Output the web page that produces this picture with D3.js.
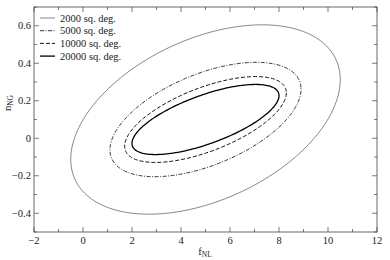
<!DOCTYPE html>
<html>
<head>
<meta charset="utf-8">
<script src="https://cdn.jsdelivr.net/npm/d3@7"></script>
<style>
  body { margin: 0; background: #fff; }
  text { font-family: "Liberation Serif", "Times New Roman", serif; fill: #222; }
</style>
</head>
<body>
<div id="root"></div>
<script>
// survey areas and Fisher-forecast ellipse parameters
const surveys = ["2000 sq. deg.", "5000 sq. deg.", "10000 sq. deg.", "20000 sq. deg."];
const centerF = 5.0, centerN = 0.1;
const sigmaF = [5.5, 3.9, 3.3, 3.0];
const sigmaN = [0.505, 0.305, 0.229, 0.187];
const rho = [0.42, 0.53, 0.62, 0.68];

const xMajor = [-2, 0, 2, 4, 6, 8, 10, 12];
const xMinor = d3.range(-2, 12.01, 1);
const yMajor = [-0.4, -0.2, 0, 0.2, 0.4, 0.6];
const yMinor = d3.range(-0.5, 0.701, 0.1);

const width = 390, height = 260;
const x = d3.scaleLinear().domain([-2, 12]).range([34, 377]);
const y = d3.scaleLinear().domain([-0.5, 0.7]).range([232, 7]);

const styles = [
  {w: 0.7, dash: null, col: "#555"},
  {w: 0.9, dash: "4,1.5,1,1.5", col: "#222"},
  {w: 1.0, dash: "4,2", col: "#111"},
  {w: 1.3, dash: null, col: "#000"}
];

const svg = d3.select("#root").append("svg")
    .attr("width", width).attr("height", height);

// ellipses
const angles = d3.range(0, 360, 2).map(a => a * Math.PI / 180);
const line = d3.line()
    .curve(d3.curveCardinalClosed)
    .x(d => x(d[0])).y(d => y(d[1]));

surveys.forEach((s, i) => {
  const pts = angles.map(t => [
    centerF + sigmaF[i] * Math.cos(t),
    centerN + sigmaN[i] * (rho[i] * Math.cos(t) + Math.sqrt(1 - rho[i] * rho[i]) * Math.sin(t))
  ]);
  svg.append("path")
      .attr("d", line(pts))
      .attr("fill", "none")
      .attr("stroke", styles[i].col)
      .attr("stroke-width", styles[i].w)
      .attr("stroke-dasharray", styles[i].dash);
});

// frame
const x0 = x.range()[0], x1 = x.range()[1], y0 = y.range()[0], y1 = y.range()[1];
svg.append("rect")
    .attr("x", x0).attr("y", y1)
    .attr("width", x1 - x0).attr("height", y0 - y1)
    .attr("fill", "none").attr("stroke", "#444").attr("stroke-width", 0.8);

// ticks on all four sides, pointing inward
const tk = svg.append("g").attr("stroke", "#444").attr("stroke-width", 0.7);
xMinor.forEach(v => {
  const len = xMajor.some(m => Math.abs(m - v) < 1e-6) ? 5 : 3;
  tk.append("line").attr("x1", x(v)).attr("x2", x(v)).attr("y1", y0).attr("y2", y0 - len);
  tk.append("line").attr("x1", x(v)).attr("x2", x(v)).attr("y1", y1).attr("y2", y1 + len);
});
yMinor.forEach(v => {
  const len = yMajor.some(m => Math.abs(m - v) < 1e-6) ? 5 : 3;
  tk.append("line").attr("y1", y(v)).attr("y2", y(v)).attr("x1", x0).attr("x2", x0 + len);
  tk.append("line").attr("y1", y(v)).attr("y2", y(v)).attr("x1", x1).attr("x2", x1 - len);
});

// tick labels
svg.selectAll(".xl").data(xMajor).enter().append("text")
    .attr("x", d => x(d)).attr("y", 244)
    .attr("text-anchor", "middle").attr("font-size", 10.5)
    .text(d => d < 0 ? "\u2212" + Math.abs(d) : d);
svg.selectAll(".yl").data(yMajor).enter().append("text")
    .attr("x", 31).attr("y", d => y(d) + 3.5)
    .attr("text-anchor", "end").attr("font-size", 10.5)
    .text(d => d < 0 ? "\u2212" + Math.abs(d) : (d === 0 ? "0" : d));

// axis titles
const xt = svg.append("text").attr("x", 205).attr("y", 255)
    .attr("text-anchor", "middle").attr("font-size", 10.5).text("f");
xt.append("tspan").attr("font-size", 7.5).attr("dy", 2).text("NL");

const yt = svg.append("text")
    .attr("transform", "translate(11,103)rotate(-90)")
    .attr("text-anchor", "middle").attr("font-size", 10.5).text("n");
yt.append("tspan").attr("font-size", 7.5).attr("dy", 2).text("NG");

// legend
const legend = svg.append("g").attr("transform", "translate(40,18)");
surveys.forEach((s, i) => {
  const row = legend.append("g").attr("transform", "translate(0," + (i * 12.7) + ")");
  row.append("line")
      .attr("x1", 0).attr("x2", 15).attr("y1", 0).attr("y2", 0)
      .attr("stroke", styles[i].col)
      .attr("stroke-width", styles[i].w)
      .attr("stroke-dasharray", styles[i].dash);
  row.append("text")
      .attr("x", 20).attr("y", 3.5)
      .attr("font-size", 10.5)
      .text(s);
});
</script>
</body>
</html>
